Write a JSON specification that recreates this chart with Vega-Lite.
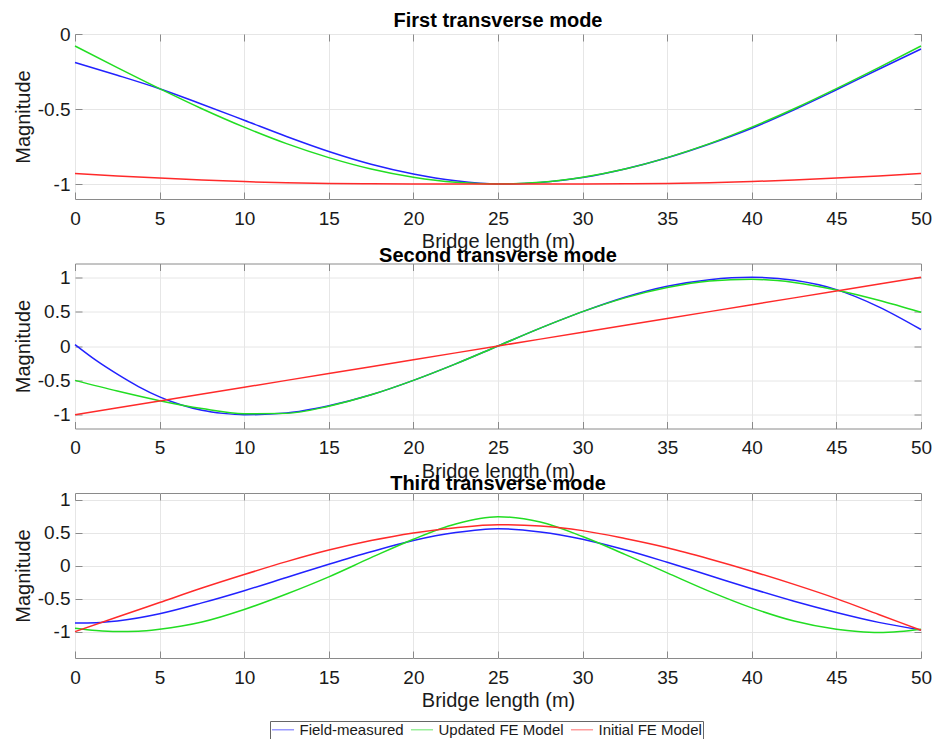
{
  "$schema": "https://vega.github.io/schema/vega-lite/v6.json",
  "autosize": {"type": "none"},
  "padding": {"left": 75, "top": 34, "right": 871, "bottom": 705},
  "background": "white",
  "bounds": "flush",
  "spacing": 64.5,
  "datasets": {
    "p1": [
      {"x": 0, "s": "Field-measured", "y": -0.19}, {"x": 2.5, "s": "Field-measured", "y": -0.275}, {"x": 5, "s": "Field-measured", "y": -0.365}, {"x": 7.5, "s": "Field-measured", "y": -0.468}, {"x": 10, "s": "Field-measured", "y": -0.575}, {"x": 12.5, "s": "Field-measured", "y": -0.683}, {"x": 15, "s": "Field-measured", "y": -0.783}, {"x": 17.5, "s": "Field-measured", "y": -0.868}, {"x": 20, "s": "Field-measured", "y": -0.933}, {"x": 22.5, "s": "Field-measured", "y": -0.978}, {"x": 25, "s": "Field-measured", "y": -1.0}, {"x": 27.5, "s": "Field-measured", "y": -0.99}, {"x": 30, "s": "Field-measured", "y": -0.957}, {"x": 32.5, "s": "Field-measured", "y": -0.9}, {"x": 35, "s": "Field-measured", "y": -0.825}, {"x": 37.5, "s": "Field-measured", "y": -0.733}, {"x": 40, "s": "Field-measured", "y": -0.628}, {"x": 42.5, "s": "Field-measured", "y": -0.505}, {"x": 45, "s": "Field-measured", "y": -0.372}, {"x": 47.5, "s": "Field-measured", "y": -0.235}, {"x": 50, "s": "Field-measured", "y": -0.1},
      {"x": 0, "s": "Updated FE Model", "y": -0.08}, {"x": 2.5, "s": "Updated FE Model", "y": -0.224}, {"x": 5, "s": "Updated FE Model", "y": -0.364}, {"x": 7.5, "s": "Updated FE Model", "y": -0.498}, {"x": 10, "s": "Updated FE Model", "y": -0.621}, {"x": 12.5, "s": "Updated FE Model", "y": -0.731}, {"x": 15, "s": "Updated FE Model", "y": -0.824}, {"x": 17.5, "s": "Updated FE Model", "y": -0.9}, {"x": 20, "s": "Updated FE Model", "y": -0.955}, {"x": 22.5, "s": "Updated FE Model", "y": -0.989}, {"x": 25, "s": "Updated FE Model", "y": -1.0}, {"x": 27.5, "s": "Updated FE Model", "y": -0.989}, {"x": 30, "s": "Updated FE Model", "y": -0.955}, {"x": 32.5, "s": "Updated FE Model", "y": -0.9}, {"x": 35, "s": "Updated FE Model", "y": -0.824}, {"x": 37.5, "s": "Updated FE Model", "y": -0.731}, {"x": 40, "s": "Updated FE Model", "y": -0.621}, {"x": 42.5, "s": "Updated FE Model", "y": -0.498}, {"x": 45, "s": "Updated FE Model", "y": -0.364}, {"x": 47.5, "s": "Updated FE Model", "y": -0.224}, {"x": 50, "s": "Updated FE Model", "y": -0.08},
      {"x": 0, "s": "Initial FE Model", "y": -0.93}, {"x": 2.5, "s": "Initial FE Model", "y": -0.946}, {"x": 5, "s": "Initial FE Model", "y": -0.96}, {"x": 7.5, "s": "Initial FE Model", "y": -0.973}, {"x": 10, "s": "Initial FE Model", "y": -0.984}, {"x": 12.5, "s": "Initial FE Model", "y": -0.992}, {"x": 15, "s": "Initial FE Model", "y": -0.997}, {"x": 17.5, "s": "Initial FE Model", "y": -0.999}, {"x": 20, "s": "Initial FE Model", "y": -1.0}, {"x": 22.5, "s": "Initial FE Model", "y": -1.0}, {"x": 25, "s": "Initial FE Model", "y": -1.0}, {"x": 27.5, "s": "Initial FE Model", "y": -1.0}, {"x": 30, "s": "Initial FE Model", "y": -1.0}, {"x": 32.5, "s": "Initial FE Model", "y": -0.999}, {"x": 35, "s": "Initial FE Model", "y": -0.997}, {"x": 37.5, "s": "Initial FE Model", "y": -0.992}, {"x": 40, "s": "Initial FE Model", "y": -0.984}, {"x": 42.5, "s": "Initial FE Model", "y": -0.973}, {"x": 45, "s": "Initial FE Model", "y": -0.96}, {"x": 47.5, "s": "Initial FE Model", "y": -0.946}, {"x": 50, "s": "Initial FE Model", "y": -0.93}
    ],
    "p2": [
      {"x": 0, "s": "Field-measured", "y": 0.02}, {"x": 1.25, "s": "Field-measured", "y": -0.21}, {"x": 2.5, "s": "Field-measured", "y": -0.41}, {"x": 3.75, "s": "Field-measured", "y": -0.59}, {"x": 5, "s": "Field-measured", "y": -0.74}, {"x": 6.25, "s": "Field-measured", "y": -0.855}, {"x": 7.5, "s": "Field-measured", "y": -0.935}, {"x": 8.75, "s": "Field-measured", "y": -0.98}, {"x": 10, "s": "Field-measured", "y": -1.0}, {"x": 12.5, "s": "Field-measured", "y": -0.975}, {"x": 15, "s": "Field-measured", "y": -0.87}, {"x": 17.5, "s": "Field-measured", "y": -0.71}, {"x": 20, "s": "Field-measured", "y": -0.5}, {"x": 22.5, "s": "Field-measured", "y": -0.26}, {"x": 25, "s": "Field-measured", "y": 0.0}, {"x": 27.5, "s": "Field-measured", "y": 0.26}, {"x": 30, "s": "Field-measured", "y": 0.5}, {"x": 32.5, "s": "Field-measured", "y": 0.71}, {"x": 35, "s": "Field-measured", "y": 0.87}, {"x": 37.5, "s": "Field-measured", "y": 0.965}, {"x": 40, "s": "Field-measured", "y": 1.0}, {"x": 42.5, "s": "Field-measured", "y": 0.955}, {"x": 45, "s": "Field-measured", "y": 0.82}, {"x": 47.5, "s": "Field-measured", "y": 0.57}, {"x": 50, "s": "Field-measured", "y": 0.24},
      {"x": 0, "s": "Updated FE Model", "y": -0.5}, {"x": 2.5, "s": "Updated FE Model", "y": -0.655}, {"x": 5, "s": "Updated FE Model", "y": -0.795}, {"x": 7.5, "s": "Updated FE Model", "y": -0.91}, {"x": 10, "s": "Updated FE Model", "y": -0.985}, {"x": 12.5, "s": "Updated FE Model", "y": -0.98}, {"x": 15, "s": "Updated FE Model", "y": -0.875}, {"x": 17.5, "s": "Updated FE Model", "y": -0.71}, {"x": 20, "s": "Updated FE Model", "y": -0.5}, {"x": 22.5, "s": "Updated FE Model", "y": -0.26}, {"x": 25, "s": "Updated FE Model", "y": 0.0}, {"x": 27.5, "s": "Updated FE Model", "y": 0.26}, {"x": 30, "s": "Updated FE Model", "y": 0.5}, {"x": 32.5, "s": "Updated FE Model", "y": 0.7}, {"x": 35, "s": "Updated FE Model", "y": 0.85}, {"x": 37.5, "s": "Updated FE Model", "y": 0.945}, {"x": 40, "s": "Updated FE Model", "y": 0.97}, {"x": 42.5, "s": "Updated FE Model", "y": 0.925}, {"x": 45, "s": "Updated FE Model", "y": 0.815}, {"x": 47.5, "s": "Updated FE Model", "y": 0.665}, {"x": 50, "s": "Updated FE Model", "y": 0.49},
      {"x": 0, "s": "Initial FE Model", "y": -1.0}, {"x": 5, "s": "Initial FE Model", "y": -0.8}, {"x": 10, "s": "Initial FE Model", "y": -0.6}, {"x": 15, "s": "Initial FE Model", "y": -0.4}, {"x": 20, "s": "Initial FE Model", "y": -0.2}, {"x": 25, "s": "Initial FE Model", "y": 0.0}, {"x": 30, "s": "Initial FE Model", "y": 0.2}, {"x": 35, "s": "Initial FE Model", "y": 0.4}, {"x": 40, "s": "Initial FE Model", "y": 0.6}, {"x": 45, "s": "Initial FE Model", "y": 0.8}, {"x": 50, "s": "Initial FE Model", "y": 1.0}
    ],
    "p3": [
      {"x": 0, "s": "Field-measured", "y": -0.87}, {"x": 1.25, "s": "Field-measured", "y": -0.865}, {"x": 2.5, "s": "Field-measured", "y": -0.84}, {"x": 5, "s": "Field-measured", "y": -0.73}, {"x": 7.5, "s": "Field-measured", "y": -0.565}, {"x": 10, "s": "Field-measured", "y": -0.38}, {"x": 12.5, "s": "Field-measured", "y": -0.18}, {"x": 15, "s": "Field-measured", "y": 0.02}, {"x": 17.5, "s": "Field-measured", "y": 0.21}, {"x": 20, "s": "Field-measured", "y": 0.38}, {"x": 22.5, "s": "Field-measured", "y": 0.5}, {"x": 25, "s": "Field-measured", "y": 0.56}, {"x": 27.5, "s": "Field-measured", "y": 0.51}, {"x": 30, "s": "Field-measured", "y": 0.4}, {"x": 32.5, "s": "Field-measured", "y": 0.24}, {"x": 35, "s": "Field-measured", "y": 0.05}, {"x": 37.5, "s": "Field-measured", "y": -0.15}, {"x": 40, "s": "Field-measured", "y": -0.35}, {"x": 42.5, "s": "Field-measured", "y": -0.54}, {"x": 45, "s": "Field-measured", "y": -0.71}, {"x": 47.5, "s": "Field-measured", "y": -0.86}, {"x": 50, "s": "Field-measured", "y": -0.975},
      {"x": 0, "s": "Updated FE Model", "y": -0.95}, {"x": 1.25, "s": "Updated FE Model", "y": -0.985}, {"x": 2.5, "s": "Updated FE Model", "y": -1.0}, {"x": 3.75, "s": "Updated FE Model", "y": -0.995}, {"x": 5, "s": "Updated FE Model", "y": -0.965}, {"x": 7.5, "s": "Updated FE Model", "y": -0.855}, {"x": 10, "s": "Updated FE Model", "y": -0.665}, {"x": 12.5, "s": "Updated FE Model", "y": -0.43}, {"x": 15, "s": "Updated FE Model", "y": -0.17}, {"x": 17.5, "s": "Updated FE Model", "y": 0.12}, {"x": 20, "s": "Updated FE Model", "y": 0.4}, {"x": 22.5, "s": "Updated FE Model", "y": 0.63}, {"x": 25, "s": "Updated FE Model", "y": 0.74}, {"x": 27.5, "s": "Updated FE Model", "y": 0.66}, {"x": 30, "s": "Updated FE Model", "y": 0.44}, {"x": 32.5, "s": "Updated FE Model", "y": 0.17}, {"x": 35, "s": "Updated FE Model", "y": -0.11}, {"x": 37.5, "s": "Updated FE Model", "y": -0.39}, {"x": 40, "s": "Updated FE Model", "y": -0.64}, {"x": 42.5, "s": "Updated FE Model", "y": -0.84}, {"x": 45, "s": "Updated FE Model", "y": -0.965}, {"x": 46.25, "s": "Updated FE Model", "y": -1.0}, {"x": 47.5, "s": "Updated FE Model", "y": -1.015}, {"x": 48.75, "s": "Updated FE Model", "y": -1.0}, {"x": 50, "s": "Updated FE Model", "y": -0.965},
      {"x": 0, "s": "Initial FE Model", "y": -1.0}, {"x": 2.5, "s": "Initial FE Model", "y": -0.78}, {"x": 5, "s": "Initial FE Model", "y": -0.56}, {"x": 7.5, "s": "Initial FE Model", "y": -0.34}, {"x": 10, "s": "Initial FE Model", "y": -0.135}, {"x": 12.5, "s": "Initial FE Model", "y": 0.06}, {"x": 15, "s": "Initial FE Model", "y": 0.235}, {"x": 17.5, "s": "Initial FE Model", "y": 0.38}, {"x": 20, "s": "Initial FE Model", "y": 0.495}, {"x": 22.5, "s": "Initial FE Model", "y": 0.575}, {"x": 25, "s": "Initial FE Model", "y": 0.62}, {"x": 27.5, "s": "Initial FE Model", "y": 0.6}, {"x": 30, "s": "Initial FE Model", "y": 0.53}, {"x": 32.5, "s": "Initial FE Model", "y": 0.41}, {"x": 35, "s": "Initial FE Model", "y": 0.27}, {"x": 37.5, "s": "Initial FE Model", "y": 0.1}, {"x": 40, "s": "Initial FE Model", "y": -0.085}, {"x": 42.5, "s": "Initial FE Model", "y": -0.285}, {"x": 45, "s": "Initial FE Model", "y": -0.5}, {"x": 47.5, "s": "Initial FE Model", "y": -0.74}, {"x": 50, "s": "Initial FE Model", "y": -0.98}
    ]
  },
  "vconcat": [
    {
      "data": {"name": "p1"},
      "title": {"text": "First transverse mode", "offset": -6},
      "width": 846, "height": 165,
      "layer": [
        {
          "mark": {"type": "line", "strokeWidth": 1.5, "interpolate": "monotone"},
          "encoding": {
            "x": {"field": "x", "type": "quantitative", "scale": {"domain": [0, 50], "nice": false}, "axis": {"orient": "bottom", "values": [0, 5, 10, 15, 20, 25, 30, 35, 40, 45, 50], "title": "Bridge length (m)"}},
            "y": {"field": "y", "type": "quantitative", "scale": {"domain": [-1.1, 0], "nice": false, "zero": false}, "axis": {"orient": "left", "values": [-1, -0.5, 0], "title": "Magnitude", "labelExpr": "toString(datum.value)"}},
            "color": {"field": "s", "type": "nominal", "scale": {"domain": ["Field-measured", "Updated FE Model", "Initial FE Model"], "range": ["#2222ff", "#22dd22", "#ff2a2a"]}}
          }
        },
        {
          "mark": {"type": "line", "opacity": 0},
          "encoding": {
            "x": {"field": "x", "type": "quantitative", "axis": {"orient": "top", "values": [0, 5, 10, 15, 20, 25, 30, 35, 40, 45, 50], "labels": false, "title": null, "grid": false}},
            "y": {"field": "y", "type": "quantitative", "axis": {"orient": "right", "values": [-1, -0.5, 0], "labels": false, "title": null, "grid": false}},
            "detail": {"field": "s"}
          }
        }
      ],
      "resolve": {"axis": {"x": "independent", "y": "independent"}}
    },
    {
      "data": {"name": "p2"},
      "title": {"text": "Second transverse mode", "offset": -3},
      "width": 846, "height": 165,
      "layer": [
        {
          "mark": {"type": "line", "strokeWidth": 1.5, "interpolate": "monotone"},
          "encoding": {
            "x": {"field": "x", "type": "quantitative", "scale": {"domain": [0, 50], "nice": false}, "axis": {"orient": "bottom", "values": [0, 5, 10, 15, 20, 25, 30, 35, 40, 45, 50], "title": "Bridge length (m)"}},
            "y": {"field": "y", "type": "quantitative", "scale": {"domain": [-1.2, 1.2], "nice": false, "zero": false}, "axis": {"orient": "left", "values": [-1, -0.5, 0, 0.5, 1], "title": "Magnitude", "labelExpr": "toString(datum.value)"}},
            "color": {"field": "s", "type": "nominal", "scale": {"domain": ["Field-measured", "Updated FE Model", "Initial FE Model"], "range": ["#2222ff", "#22dd22", "#ff2a2a"]}}
          }
        },
        {
          "mark": {"type": "line", "opacity": 0},
          "encoding": {
            "x": {"field": "x", "type": "quantitative", "axis": {"orient": "top", "values": [0, 5, 10, 15, 20, 25, 30, 35, 40, 45, 50], "labels": false, "title": null, "grid": false}},
            "y": {"field": "y", "type": "quantitative", "axis": {"orient": "right", "values": [-1, -0.5, 0, 0.5, 1], "labels": false, "title": null, "grid": false}},
            "detail": {"field": "s"}
          }
        }
      ],
      "resolve": {"axis": {"x": "independent", "y": "independent"}}
    },
    {
      "data": {"name": "p3"},
      "title": {"text": "Third transverse mode", "offset": -3},
      "width": 846, "height": 165,
      "layer": [
        {
          "mark": {"type": "line", "strokeWidth": 1.5, "interpolate": "monotone"},
          "encoding": {
            "x": {"field": "x", "type": "quantitative", "scale": {"domain": [0, 50], "nice": false}, "axis": {"orient": "bottom", "values": [0, 5, 10, 15, 20, 25, 30, 35, 40, 45, 50], "title": "Bridge length (m)"}},
            "y": {"field": "y", "type": "quantitative", "scale": {"domain": [-1.4, 1.1], "nice": false, "zero": false}, "axis": {"orient": "left", "values": [-1, -0.5, 0, 0.5, 1], "title": "Magnitude", "labelExpr": "toString(datum.value)"}},
            "color": {"field": "s", "type": "nominal", "scale": {"domain": ["Field-measured", "Updated FE Model", "Initial FE Model"], "range": ["#2222ff", "#22dd22", "#ff2a2a"]}}
          }
        },
        {
          "mark": {"type": "line", "opacity": 0},
          "encoding": {
            "x": {"field": "x", "type": "quantitative", "axis": {"orient": "top", "values": [0, 5, 10, 15, 20, 25, 30, 35, 40, 45, 50], "labels": false, "title": null, "grid": false}},
            "y": {"field": "y", "type": "quantitative", "axis": {"orient": "right", "values": [-1, -0.5, 0, 0.5, 1], "labels": false, "title": null, "grid": false}},
            "detail": {"field": "s"}
          }
        }
      ],
      "resolve": {"axis": {"x": "independent", "y": "independent"}}
    }
  ],
  "config": {
    "font": "Liberation Sans",
    "view": {"stroke": "#8a8a8a", "strokeWidth": 1},
    "title": {"font": "Liberation Sans", "fontSize": 20, "fontWeight": "bold", "color": "#000000", "baseline": "alphabetic", "anchor": "middle", "frame": "group"},
    "axis": {
      "domain": false, "grid": true, "gridColor": "#e6e6e6", "gridWidth": 1,
      "ticks": true, "tickColor": "#8a8a8a", "tickSize": -7, "tickWidth": 1,
      "labelFont": "Liberation Sans", "labelFontSize": 19, "labelColor": "#1a1a1a",
      "titleFont": "Liberation Sans", "titleFontSize": 20, "titleFontWeight": "normal", "titleColor": "#1a1a1a",
      "labelFlush": false, "labelOverlap": false
    },
    "axisBottom": {"labelPadding": 17, "titleY": 48.5, "titleBaseline": "alphabetic"},
    "axisLeft": {"labelPadding": 12, "titleX": -45.5, "titleBaseline": "alphabetic"},
    "legend": {
      "orient": "none", "legendX": 195, "legendY": 687, "direction": "horizontal", "columns": 3,
      "title": null, "symbolType": "M-1.7,0L1.7,0", "symbolSize": 169, "symbolOffset": 4.5, "symbolStrokeWidth": 1.5, "symbolOpacity": 0.45,
      "labelFont": "Liberation Sans", "labelFontSize": 15, "labelColor": "#1a1a1a", "labelOffset": 9, "labelLimit": 300,
      "columnPadding": 3, "rowPadding": 0, "padding": 1, "strokeColor": "#666666", "fillColor": "#ffffff"
    }
  }
}
